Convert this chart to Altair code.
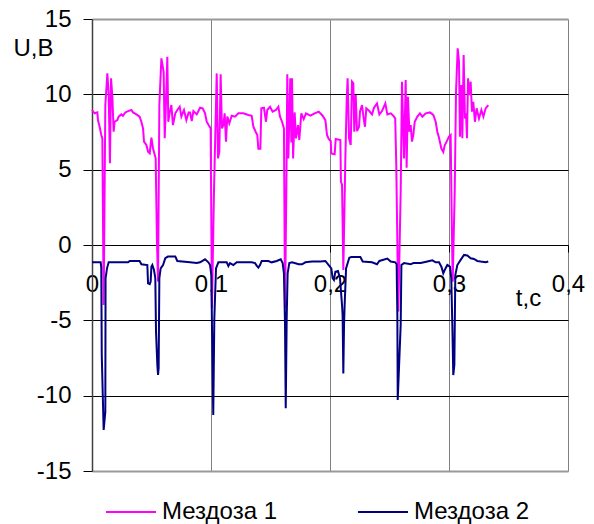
import altair as alt
import pandas as pd

# Мездоза 1 (magenta)
t1 = [0, 0.0022, 0.0045, 0.005, 0.0064, 0.0078, 0.0087, 0.0098, 0.0112, 0.0129, 0.014, 0.0151, 0.016, 0.0171, 0.0182, 0.019,
      0.0213, 0.0224, 0.0246, 0.026, 0.028, 0.0303, 0.0331, 0.0345, 0.0373, 0.04, 0.0415, 0.0429, 0.0437, 0.0457, 0.0471, 0.0485,
      0.0499, 0.0513, 0.0535, 0.0546, 0.0555, 0.0566, 0.0583, 0.0602, 0.0611, 0.0619, 0.0633, 0.0641, 0.0653, 0.0667, 0.068, 0.07,
      0.0717, 0.0737, 0.0751, 0.0773, 0.0793, 0.0812,
      0.0824, 0.0838, 0.0852, 0.088, 0.0908, 0.093, 0.095, 0.0964, 0.098, 0.0997, 0.1008, 0.1025, 0.1048, 0.1059, 0.107, 0.1081,
      0.1092, 0.1104, 0.1115, 0.1126, 0.1137, 0.1154, 0.1174, 0.1202, 0.123, 0.1272, 0.1314, 0.1342, 0.1356, 0.1375, 0.1389, 0.1398,
      0.1415, 0.1423, 0.1445, 0.1462, 0.1473, 0.1496, 0.1518, 0.1546, 0.1566, 0.158, 0.1597, 0.1613, 0.1622, 0.1633, 0.1641, 0.165,
      0.1666, 0.1675, 0.1681, 0.169,
      0.1703, 0.1714, 0.1731, 0.1742, 0.1759, 0.1779, 0.1798, 0.1835, 0.1871, 0.1905, 0.1938, 0.1961, 0.1975, 0.1989, 0.2006, 0.2011,
      0.2039, 0.2048, 0.2087, 0.2092, 0.2101, 0.2112, 0.2129, 0.214, 0.2148, 0.216, 0.2174, 0.2185, 0.2196, 0.2204, 0.2216, 0.2227,
      0.2244, 0.2252, 0.2269, 0.2283, 0.2294, 0.2305, 0.233, 0.2353, 0.237, 0.2395, 0.2415, 0.2437, 0.2465, 0.2482, 0.251, 0.2532,
      0.2548, 0.2557, 0.2574,
      0.2594, 0.2605, 0.2622, 0.2636, 0.2644, 0.2655, 0.2667, 0.2678, 0.2689, 0.27, 0.2712, 0.2734, 0.2756, 0.2776, 0.2804, 0.284,
      0.2868, 0.2888, 0.2902, 0.2916, 0.2936, 0.2952, 0.2964, 0.298, 0.3, 0.3014, 0.3022, 0.3031, 0.3048, 0.3059, 0.3073, 0.3084,
      0.3092, 0.3104, 0.3112, 0.3123, 0.3134, 0.3143, 0.3151, 0.316, 0.3171, 0.3182, 0.3193, 0.3204, 0.3218, 0.3232, 0.3252, 0.3272,
      0.3289, 0.3308, 0.333]
u1 = [8.96, 8.74, 8.8, 8.29, 7.85, 7.3, 7.08, -3.98, 9.29, 11.39, 10.06, 5.42, 11.06, 9.84, 7.52, 8.18,
      8.29, 8.52, 8.67, 8.58, 8.8, 8.89, 8.96, 8.8, 8.67, 8.52, 8.18, 7.74, 6.86, 6.64, 6.19, 6.08,
      7.12, 6.41, 5.75, 0.22, -2.43, 9.29, 12.39, 11.5, 7.08, 8.85, 12.5, 8.18, 8.8, 9.29, 7.96, 8.74,
      8.96, 9.18, 8.52, 8.96, 8.29, 8.8,
      8.8, 8.23, 8.89, 8.67, 9.11, 9.07, 8.74, 8.18, 7.96, 7.74, -4.2, 3.54, 11.39, 5.75, 6.19, 11.33,
      7.74, 7.96, 8.74, 6.86, 8.52, 8.07, 8.58, 8.52, 8.74, 8.74, 8.63, 8.58, 7.85, 7.52, 7.3, 6.39,
      6.39, 9.07, 9.11, 8.18, 8.96, 9.18, 8.85, 8.96, 9.18, 8.52, 8.18, 7.74, -4.2, 3.54, 11.33, 5.75,
      11.06, 6.8, 11.06, 5.75,
      8.8, 7.08, 7.96, 6.97, 8.74, 8.36, 8.74, 8.58, 8.74, 8.85, 8.58, 8.29, 7.3, 7.04, 6.9, 6.08,
      6.02, 7.04, 6.97, 4.2, 4.0, -1.66, 5.75, 9.51, 11.06, 7.08, 6.64, 10.84, 10.73, 7.52, 9.95, 7.56,
      7.85, 8.85, 9.29, 8.4, 7.85, 9.07, 8.89, 8.67, 9.11, 9.4, 8.67, 8.89, 9.4, 8.67, 8.74, 8.58,
      8.4, 5.3, -4.42,
      3.54, 10.84, 5.75, 10.95, 5.13, 9.84, 7.52, 7.96, 6.86, 7.3, 8.18, 8.52, 8.74, 8.52, 8.74, 8.8,
      8.63, 8.18, 7.52, 7.12, 6.39, 6.17, 6.61, 6.86, 7.19, 7.3, 2.21, -2.43, 3.54, 10.17, 13.05, 12.17,
      7.19, 10.62, 7.08, 12.61, 8.4, 8.74, 7.08, 11.06, 9.95, 10.84, 8.85, 9.51, 8.18, 9.07, 8.4, 8.96,
      8.52, 9.07, 9.29]

# Мездоза 2 (navy)
t2 = [0, 0.0073, 0.0078, 0.0082, 0.0098, 0.0112, 0.0114, 0.0126, 0.014, 0.0303, 0.0317, 0.04, 0.0415, 0.0465, 0.0471, 0.0485,
      0.0493, 0.0499, 0.0507, 0.0521, 0.0532, 0.0538, 0.0549, 0.0555, 0.056, 0.0566, 0.0577, 0.0597, 0.0616, 0.0638, 0.07, 0.0717,
      0.0824, 0.088, 0.0908, 0.095, 0.0978, 0.0992, 0.1003, 0.1008, 0.1019, 0.1028, 0.1042, 0.1062, 0.1132, 0.1146, 0.116, 0.1188,
      0.1216, 0.1342, 0.137, 0.1384, 0.1398, 0.1412, 0.1426, 0.1482, 0.151, 0.1552, 0.1586, 0.1602, 0.1613, 0.1622, 0.1628, 0.1636,
      0.1644, 0.1658, 0.1681,
      0.1737, 0.1765, 0.1793, 0.1849, 0.1919, 0.1961, 0.1989, 0.2011, 0.2022, 0.2033, 0.2045, 0.2067, 0.2084, 0.2101, 0.2106, 0.2112,
      0.2118, 0.2123, 0.2135, 0.2162, 0.2179, 0.2255, 0.2275, 0.2353, 0.2395, 0.2415, 0.2482, 0.251, 0.2549,
      0.256, 0.2566, 0.2569, 0.2583, 0.2594, 0.26, 0.2622, 0.2678, 0.27, 0.2762, 0.2818, 0.286, 0.2888, 0.2916, 0.2936, 0.2952,
      0.2964, 0.2986, 0.3008, 0.3019, 0.3028, 0.3036, 0.3045, 0.3053, 0.307, 0.3098, 0.3126, 0.3154, 0.3182, 0.321, 0.3238, 0.3266,
      0.3308, 0.333]
u2 = [-1.15, -1.15, -1.5, -7.3, -12.28, -11.06, -2.21, -1.55, -1.15, -1.15, -1.06, -1.06, -1.28, -1.33, -2.54, -2.6,
      -2.43, -1.44, -1.33, -1.66, -2.2, -5.75, -7.96, -8.63, -8.18, -2.2, -1.55, -1.33, -0.88, -0.77, -0.77, -1.06,
      -1.15, -1.2, -1.15, -0.95, -1.15, -1.33, -2.0, -5.3, -11.28, -4.87, -1.55, -1.15, -1.15, -1.4, -1.2, -1.33,
      -1.15, -1.15, -1.2, -1.37, -1.5, -1.33, -1.06, -1.06, -1.15, -1.06, -0.95, -1.2, -1.88, -5.3, -10.84, -4.87,
      -1.88, -1.2, -1.15,
      -1.28, -1.28, -1.15, -1.1, -1.1, -1.06, -1.33, -1.55, -2.2, -2.32, -1.77, -1.72, -2.2, -3.98, -4.65, -8.52,
      -5.3, -4.0, -1.55, -0.85, -0.8, -0.8, -1.1, -1.15, -1.28, -1.06, -0.9, -1.1, -1.15,
      -1.28, -4.65, -10.29, -7.52, -5.3, -1.33, -1.2, -1.28, -1.2, -1.2, -1.1, -1.02, -1.15, -1.15, -1.44, -1.88,
      -1.66, -1.33, -1.44, -2.2, -5.3, -8.63, -7.96, -1.99, -1.33, -0.99, -0.66, -0.7, -0.88, -0.93, -1.06, -1.1,
      -1.15, -1.1]

series_names = ["Мездоза 1", "Мездоза 2"]
series_colors = ["#FF00FF", "#000080"]
x_ticks = [0, 0.1, 0.2, 0.3, 0.4]
y_ticks = [-15, -10, -5, 0, 5, 10, 15]

rows = []
for i, (t, u) in enumerate(zip(t1, u1)):
    rows.append({"t": t, "U": u, "s": series_names[0], "i": i})
for i, (t, u) in enumerate(zip(t2, u2)):
    rows.append({"t": t, "U": u, "s": series_names[1], "i": i})
df = pd.DataFrame(rows)

FONT = "Liberation Sans"

chart = alt.Chart(df).mark_line(strokeWidth=2).encode(
    x=alt.X("t:Q",
            scale=alt.Scale(domain=[0, 0.4], nice=False, zero=False),
            axis=alt.Axis(values=x_ticks, offset=-226, tickSize=7, tickColor="#000000",
                          domainColor="#000000", domainWidth=1,
                          grid=True, gridColor="#808080", gridWidth=1,
                          labelExpr="replace(format(datum.value, '.1~f'), '.', ',')",
                          labelFontSize=24, labelFont=FONT, labelColor="#000000",
                          labelPadding=20, labelFlush=False, labelOverlap=False,
                          title="t,c", titleFontSize=24, titleFont=FONT, titleFontWeight="normal",
                          titleColor="#000000", titleX=436, titleY=60, titleAlign="center",
                          titleBaseline="alphabetic")),
    y=alt.Y("U:Q",
            scale=alt.Scale(domain=[-15, 15], nice=False, zero=False),
            axis=alt.Axis(values=y_ticks, tickSize=9, tickColor="#000000",
                          domainColor="#404040", domainWidth=1.5,
                          grid=True,
                          gridColor={"condition": {"test": "abs(datum.value) >= 15", "value": "#999999"},
                                     "value": "#000000"},
                          gridWidth={"condition": {"test": "abs(datum.value) >= 15", "value": 2},
                                     "value": 1},
                          labelExpr="datum.value < 0 ? '-' + abs(datum.value) : '' + datum.value",
                          labelFontSize=24, labelFont=FONT, labelColor="#000000",
                          labelPadding=12, labelFlush=False, labelOverlap=False,
                          title="U,B", titleAngle=0, titleFontSize=24, titleFont=FONT,
                          titleFontWeight="normal", titleColor="#000000",
                          titleX=-59, titleY=36, titleAlign="center", titleBaseline="alphabetic")),
    color=alt.Color("s:N",
                    scale=alt.Scale(domain=series_names, range=series_colors),
                    legend=alt.Legend(orient="none", legendX=13, legendY=467, direction="horizontal",
                                      symbolType="stroke", symbolSize=2500, symbolStrokeWidth=2,
                                      labelFontSize=24, labelFont=FONT, labelColor="#000000",
                                      labelOffset=5, columnPadding=76, title=None, padding=0,
                                      labelLimit=0)),
    order=alt.Order("i:Q"),
).properties(
    width=476, height=452,
    autosize=alt.AutoSizeParams(type="none"),
    padding={"left": 92, "top": 19, "right": 26, "bottom": 53},
).configure_view(
    stroke="#999999", strokeWidth=2
).configure(font=FONT, background="#ffffff")

chart.save("out.html", embed_options={"renderer": "svg", "actions": False})
